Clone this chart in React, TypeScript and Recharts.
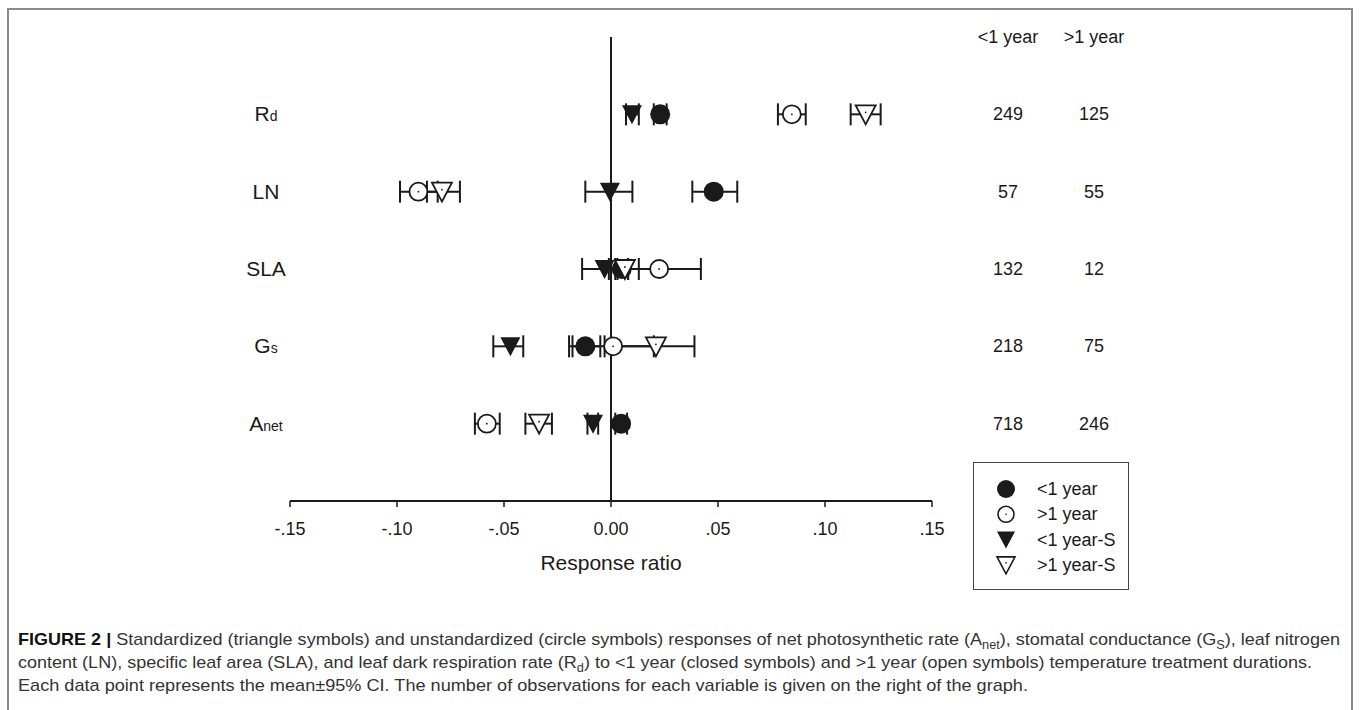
import React from 'react';
import { ComposedChart, Scatter, XAxis, YAxis, ErrorBar, ReferenceLine, Legend } from 'recharts';

// Rows (bottom to top); position 6 is the column-header line
const rowPos = [1, 2, 3, 4, 5];
const headerPos = 6;
const rowMain = ['A', 'G', 'SLA', 'LN', 'R'];
const rowSub = ['net', 's', '', '', 'd'];

// Number of observations
const countLess = [718, 218, 132, 57, 249];
const countMore = [246, 75, 12, 55, 125];
const countHeader = ['<1 year', '>1 year'];

// <1 year (closed circles)
const lt1Mean = [0.0047, -0.012, 0.005, 0.048, 0.023];
const lt1Lo = [0.002, -0.0196, 0.002, 0.038, 0.020];
const lt1Hi = [0.0075, -0.005, 0.008, 0.059, 0.026];

// >1 year (open circles)
const gt1Mean = [-0.058, 0.001, 0.0225, -0.090, 0.0845];
const gt1Lo = [-0.0636, -0.018, 0.003, -0.0986, 0.078];
const gt1Hi = [-0.052, 0.020, 0.042, -0.081, 0.091];

// <1 year-S (closed triangles)
const lt1SMean = [-0.0084, -0.047, -0.003, -0.0005, 0.0098];
const lt1SLo = [-0.011, -0.055, -0.0135, -0.012, 0.007];
const lt1SHi = [-0.006, -0.041, 0.008, 0.010, 0.013];

// >1 year-S (open triangles)
const gt1SMean = [-0.0336, 0.021, 0.0065, -0.079, 0.119];
const gt1SLo = [-0.040, -0.003, -0.001, -0.086, 0.112];
const gt1SHi = [-0.0276, 0.039, 0.013, -0.0706, 0.126];

const xTicks = [-0.15, -0.1, -0.05, 0, 0.05, 0.1, 0.15];
const xTickLabels = ['-.15', '-.10', '-.05', '0.00', '.05', '.10', '.15'];
const legendLabels = ['<1 year', '>1 year', '<1 year-S', '>1 year-S'];

const FONT = '"Liberation Sans", Arial, sans-serif';
const INK = '#1a1a1a';

const build = (mean: number[], lo: number[], hi: number[]) =>
  rowPos.map((y, i) => ({ x: mean[i], y, err: [mean[i] - lo[i], hi[i] - mean[i]] }));

const dLt1 = build(lt1Mean, lt1Lo, lt1Hi);
const dGt1 = build(gt1Mean, gt1Lo, gt1Hi);
const dLt1S = build(lt1SMean, lt1SLo, lt1SHi);
const dGt1S = build(gt1SMean, gt1SLo, gt1SHi);

const FilledCircle = ({ cx, cy }: any) => <circle cx={cx} cy={cy} r={10} fill={INK} />;
const OpenCircle = ({ cx, cy }: any) => (
  <g>
    <circle cx={cx} cy={cy} r={9} fill="#fff" stroke={INK} strokeWidth={1.8} />
    <circle cx={cx} cy={cy} r={0.9} fill={INK} />
  </g>
);
const FilledTri = ({ cx, cy }: any) => (
  <polygon points={`${cx - 10},${cy - 9} ${cx + 10},${cy - 9} ${cx},${cy + 10}`} fill={INK} />
);
const OpenTri = ({ cx, cy }: any) => (
  <g>
    <polygon
      points={`${cx - 10},${cy - 9} ${cx + 10},${cy - 9} ${cx},${cy + 10}`}
      fill="#fff"
      stroke={INK}
      strokeWidth={1.8}
    />
    <circle cx={cx} cy={cy - 2} r={0.9} fill={INK} />
  </g>
);

// Left axis tick: row label plus the two observation-count columns on the right
const RowTick = ({ y, payload }: any) => {
  const v = payload.value;
  const i = rowPos.indexOf(v);
  const a = i >= 0 ? String(countLess[i]) : v === headerPos ? countHeader[0] : '';
  const b = i >= 0 ? String(countMore[i]) : v === headerPos ? countHeader[1] : '';
  return (
    <g fontFamily={FONT} fill={INK}>
      {i >= 0 ? (
        <text x={266} y={y} dy={7} textAnchor="middle" fontSize={21}>
          {rowMain[i]}
          {rowSub[i] ? <tspan fontSize={14}>{rowSub[i]}</tspan> : null}
        </text>
      ) : null}
      {a ? (
        <text x={1008} y={y} dy={6} textAnchor="middle" fontSize={18}>
          {a}
        </text>
      ) : null}
      {b ? (
        <text x={1094} y={y} dy={6} textAnchor="middle" fontSize={18}>
          {b}
        </text>
      ) : null}
    </g>
  );
};

const legendIcons = [
  (x: number, y: number) => <circle cx={x} cy={y} r={9} fill={INK} />,
  (x: number, y: number) => (
    <g>
      <circle cx={x} cy={y} r={8} fill="#fff" stroke={INK} strokeWidth={1.6} />
      <circle cx={x} cy={y} r={0.8} fill={INK} />
    </g>
  ),
  (x: number, y: number) => <polygon points={`${x - 9},${y - 8} ${x + 9},${y - 8} ${x},${y + 9}`} fill={INK} />,
  (x: number, y: number) => (
    <g>
      <polygon points={`${x - 9},${y - 8} ${x + 9},${y - 8} ${x},${y + 9}`} fill="#fff" stroke={INK} strokeWidth={1.6} />
      <circle cx={x} cy={y - 2} r={0.8} fill={INK} />
    </g>
  ),
];

const LegendBox = () => (
  <div
    style={{
      width: 156,
      height: 128,
      boxSizing: 'border-box',
      border: '1.5px solid #444',
      background: '#fff',
      position: 'relative',
    }}
  >
    <svg width={156} height={128} style={{ position: 'absolute', left: -1.5, top: -1.5 }}>
      {legendLabels.map((lab, i) => {
        const y = 27 + i * 25.3;
        return (
          <g key={lab}>
            {legendIcons[i](33, y)}
            <text x={64} y={y} dy={6} fontFamily={FONT} fontSize={18} fill={INK}>
              {lab}
            </text>
          </g>
        );
      })}
    </svg>
  </div>
);

const XLabel = ({ viewBox }: any) => {
  if (!viewBox) return null;
  return (
    <text
      x={viewBox.x + viewBox.width / 2}
      y={viewBox.y + 69}
      textAnchor="middle"
      fontFamily={FONT}
      fontSize={21}
      fill={INK}
    >
      Response ratio
    </text>
  );
};

const captionStyle = { fontFamily: FONT, fontSize: 17, fill: '#333' } as const;

export default function App() {
  return (
    <div style={{ position: 'absolute', left: 0, top: 0, width: 1360, height: 710, background: '#fff', overflow: 'hidden' }}>
      <div
        style={{
          position: 'absolute',
          left: 7,
          top: 8,
          width: 1346,
          height: 740,
          boxSizing: 'border-box',
          border: '2px solid #8a8a8a',
        }}
      />
      <div style={{ position: 'absolute', left: 0, top: 0 }}>
        <ComposedChart width={1360} height={710} margin={{ top: 37, right: 428, bottom: 149, left: 230 }}>
          <XAxis
            type="number"
            dataKey="x"
            domain={[-0.15, 0.15]}
            ticks={xTicks}
            tickFormatter={(v: number) => xTickLabels[xTicks.findIndex((t) => Math.abs(t - v) < 1e-9)]}
            height={60}
            tickSize={6}
            tickMargin={15}
            axisLine={{ stroke: INK, strokeWidth: 2 }}
            tickLine={{ stroke: INK, strokeWidth: 1.5 }}
            tick={{ fill: INK, fontSize: 18, fontFamily: FONT }}
            allowDataOverflow
            label={<XLabel />}
          />
          <XAxis
            xAxisId="top"
            type="number"
            orientation="top"
            domain={[-0.15, 0.15]}
            height={0}
            tick={false}
            tickLine={false}
            axisLine={{ stroke: INK, strokeWidth: 2 }}
          />
          <YAxis
            type="number"
            dataKey="y"
            domain={[0, 6]}
            ticks={[1, 2, 3, 4, 5, 6]}
            width={60}
            axisLine={false}
            tickLine={false}
            tick={<RowTick />}
            allowDataOverflow
          />
          <Legend
            layout="vertical"
            align="center"
            verticalAlign="middle"
            content={<LegendBox />}
            wrapperStyle={{ position: 'absolute', left: 973, top: 462, width: 156, height: 128 }}
          />
          <Scatter name="<1 year" data={dLt1} shape={<FilledCircle />} isAnimationActive={false}>
            <ErrorBar dataKey="err" direction="x" width={11} stroke={INK} strokeWidth={2} />
          </Scatter>
          <Scatter name=">1 year" data={dGt1} shape={<OpenCircle />} isAnimationActive={false}>
            <ErrorBar dataKey="err" direction="x" width={11} stroke={INK} strokeWidth={2} />
          </Scatter>
          <Scatter name="<1 year-S" data={dLt1S} shape={<FilledTri />} isAnimationActive={false}>
            <ErrorBar dataKey="err" direction="x" width={11} stroke={INK} strokeWidth={2} />
          </Scatter>
          <Scatter name=">1 year-S" data={dGt1S} shape={<OpenTri />} isAnimationActive={false}>
            <ErrorBar dataKey="err" direction="x" width={11} stroke={INK} strokeWidth={2} />
          </Scatter>
          <ReferenceLine x={0} stroke={INK} strokeWidth={2} />
        </ComposedChart>
      </div>
      <svg width={1360} height={710} style={{ position: 'absolute', left: 0, top: 0, pointerEvents: 'none' }}>
        <text x={18} y={645} textLength={1322} lengthAdjust="spacingAndGlyphs" {...captionStyle}>
          <tspan fontWeight="bold" fill="#111">FIGURE 2 |</tspan>
          <tspan> Standardized (triangle symbols) and unstandardized (circle symbols) responses of net photosynthetic rate (A</tspan>
          <tspan fontSize={12} dy={4}>net</tspan>
          <tspan dy={-4}>), stomatal conductance (G</tspan>
          <tspan fontSize={12} dy={4}>S</tspan>
          <tspan dy={-4}>), leaf nitrogen</tspan>
        </text>
        <text x={18} y={668} textLength={1294} lengthAdjust="spacingAndGlyphs" {...captionStyle}>
          <tspan>content (LN), specific leaf area (SLA), and leaf dark respiration rate (R</tspan>
          <tspan fontSize={12} dy={4}>d</tspan>
          <tspan dy={-4}>) to &lt;1 year (closed symbols) and &gt;1 year (open symbols) temperature treatment durations.</tspan>
        </text>
        <text x={18} y={691} textLength={1010} lengthAdjust="spacingAndGlyphs" {...captionStyle}>
          Each data point represents the mean±95% CI. The number of observations for each variable is given on the right of the graph.
        </text>
      </svg>
    </div>
  );
}
